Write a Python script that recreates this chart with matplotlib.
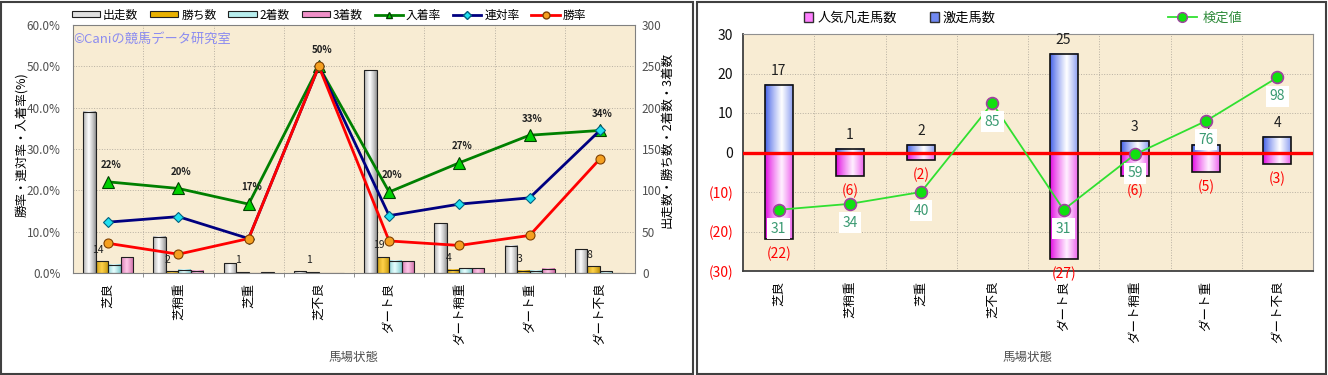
import numpy as np
import matplotlib.pyplot as plt
from matplotlib.patches import Patch, Rectangle
from matplotlib.lines import Line2D
from matplotlib.colors import to_rgb

plt.rcParams['font.family'] = ['Noto Sans CJK JP', 'DejaVu Sans']

W, H = 1328, 375

# data
conditions = ['芝良', '芝稍重', '芝重', '芝不良', 'ダート良', 'ダート稍重', 'ダート重', 'ダート不良']
runs = np.array([195, 44, 12, 2, 245, 60, 33, 29])
wins = np.array([14, 2, 1, 1, 19, 4, 3, 8])
seconds = np.array([10, 4, 0, 0, 15, 6, 3, 2])
thirds = np.array([19, 3, 1, 0, 14, 6, 5, 0])

upset = np.array([17, 1, 2, 0, 25, 3, 2, 4])      # 激走馬数
flop = np.array([22, 6, 2, 0, 27, 6, 5, 3])       # 人気凡走馬数
score = np.array([31, 34, 40, 85, 31, 59, 76, 98])  # 検定値

win_rate = wins / runs * 100
rentai = (wins + seconds) / runs * 100
place = (wins + seconds + thirds) / runs * 100


def shade(ax, bars, dark, light, peak=0.45):
    # fake cylinder look: horizontal gradient inside each bar
    t = np.linspace(0, 1, 64)
    k = np.clip(1 - np.abs(t - peak) / max(peak, 1 - peak), 0, 1) ** 0.8
    d, l = np.array(to_rgb(dark)), np.array(to_rgb(light))
    arr = ((1 - k)[:, None] * d + k[:, None] * l)[None, :, :]
    for b in bars:
        x0, y0, w, h = b.get_x(), b.get_y(), b.get_width(), b.get_height()
        if h == 0:
            continue
        ax.imshow(arr, extent=(x0, x0 + w, min(y0, y0 + h), max(y0, y0 + h)),
                  aspect='auto', zorder=1.9, interpolation='bilinear')
        b.set_facecolor('none')


def px(x0, y0, x1, y1):
    return [x0 / W, 1 - y1 / H, (x1 - x0) / W, (y1 - y0) / H]


fig = plt.figure(figsize=(W / 100, H / 100), dpi=100)
x = np.arange(len(conditions))
bg = '#F8ECD3'
grid_kw = dict(color='#B8B0A2', linestyle=':', linewidth=0.7)

# ---------------- left chart ----------------
ax = fig.add_axes(px(73, 25, 635, 273))
ax.set_facecolor(bg)
bw = 0.178
bar_specs = [
    (runs, '出走数', '#8C8C8C', '#FFFFFF'),
    (wins, '勝ち数', '#B88A00', '#FFD24A'),
    (seconds, '2着数', '#70C4C8', '#E8FFFF'),
    (thirds, '3着数', '#C8609E', '#FFC8E8'),
]
for i, (vals, lab, dk, lt) in enumerate(bar_specs):
    bars = ax.bar(x + (i - 1.5) * bw, vals, bw, edgecolor='#202020', linewidth=0.8, zorder=2)
    shade(ax, bars, dk, lt)
for xi, v in zip(x, wins):
    ax.annotate(str(v), (xi - 0.5 * bw, v), xytext=(-3, 8.5), textcoords='offset points',
                ha='center', va='center', fontsize=7.5, color='#202020', zorder=5)
ax.set_xlim(-0.5, 7.5)
ax.set_ylim(0, 300)
ax.set_yticks(np.arange(0, 301, 50))
ax.set_xticks(x)
ax.set_xticklabels(conditions, rotation=90, fontsize=9)
ax.set_xticks(np.arange(0.5, 7.5, 1), minor=True)
ax.tick_params(axis='x', which='major', length=0, pad=7)
ax.tick_params(axis='x', which='minor', length=3, color='#808080')
ax.grid(True, axis='y', **grid_kw)
ax.grid(True, axis='x', which='minor', **grid_kw)
ax.set_axisbelow(True)
for s in ax.spines.values():
    s.set_color('#808080')
ax.text(-0.5, 283, '©Caniの競馬データ研究室', color='#8C8CF0', fontsize=9.5,
        va='center', ha='left', zorder=1)

axl = ax.twinx()
# bars keep the right axis, rates go on the left
ax.yaxis.set_ticks_position('right')
ax.yaxis.set_label_position('right')
axl.yaxis.set_ticks_position('left')
axl.yaxis.set_label_position('left')
ax.tick_params(axis='y', length=0, pad=5, labelsize=8.5, labelcolor='#505050',
               labelleft=False, labelright=True)
axl.set_ylim(0, 60)
axl.set_yticks(np.arange(0, 61, 10))
axl.set_yticklabels([f'{v:.1f}%' for v in np.arange(0, 61, 10)])
axl.tick_params(axis='y', length=0, pad=9, labelsize=8.5, labelcolor='#505050',
                labelleft=True, labelright=False)
for s in axl.spines.values():
    s.set_visible(False)
axl.plot(x, place, color='#008000', lw=2, marker='^', ms=8, mfc='#00D000', mec='#004000', mew=0.8, zorder=3)
axl.plot(x, rentai, color='#000080', lw=2, marker='D', ms=5.5, mfc='#20E0F0', mec='#006080', mew=0.8, zorder=3)
axl.plot(x, win_rate, color='#FF0000', lw=2, marker='o', ms=6.5, mfc='#F5A020', mec='#804000', mew=0.8, zorder=3)
for xi, v in zip(x, place):
    axl.annotate(f'{v:.0f}%', (xi, v), xytext=(2, 12), textcoords='offset points',
                 ha='center', va='center', fontsize=7, fontweight='bold', color='#202020')

handles = [Patch(facecolor=c, edgecolor='#202020', lw=0.8, label=lab) for lab, c in
           [('出走数', '#E0E0E0'), ('勝ち数', '#E8B000'),
            ('2着数', '#B8EEEE'), ('3着数', '#F090C8')]]
handles += [
    Line2D([], [], color='#008000', lw=2, marker='^', ms=5, mfc='#00D000', mec='#004000', label='入着率'),
    Line2D([], [], color='#000080', lw=2, marker='D', ms=4, mfc='#20E0F0', mec='#006080', label='連対率'),
    Line2D([], [], color='#FF0000', lw=2, marker='o', ms=5, mfc='#F5A020', mec='#804000', label='勝率'),
]
fig.legend(handles=handles, loc='center', bbox_to_anchor=(329 / W, 1 - 15 / H), ncol=7,
           frameon=False, fontsize=8.5, handlelength=2.4, handleheight=0.45,
           handletextpad=0.25, columnspacing=1.0)
fig.text(22 / W, 1 - 145 / H, '勝率・連対率・入着率(%)', rotation=90, ha='center', va='center', fontsize=9)
fig.text(667 / W, 1 - 140 / H, '出走数・勝ち数・2着数・3着数', rotation=90, ha='center', va='center', fontsize=9)
fig.text(354 / W, 1 - 357 / H, '馬場状態', ha='center', va='center', fontsize=9, color='#505050')

# ---------------- right chart ----------------
ar = fig.add_axes(px(743, 34, 1313, 271))
ar.set_facecolor(bg)
rw = 0.39
b_up = ar.bar(x, upset, rw, edgecolor='#101010', linewidth=1.2, zorder=2)
shade(ar, b_up, '#3C5AE6', '#FFFFFF', peak=0.6)
b_fl = ar.bar(x, -flop, rw, edgecolor='#101010', linewidth=1.2, zorder=2)
shade(ar, b_fl, '#E000E0', '#FFF0FF', peak=0.6)
ar.axhline(0, color='#FF0000', lw=2.4, zorder=3)
for xi, v in zip(x, upset):
    if v:
        ar.annotate(str(v), (xi, v), xytext=(0, 10), textcoords='offset points',
                    ha='center', va='center', fontsize=10, color='#202020', zorder=4)
for xi, v in zip(x, flop):
    if v:
        ar.annotate(f'({v})', (xi, -v), xytext=(0, -10.5), textcoords='offset points',
                    ha='center', va='center', fontsize=10, color='#FF0000', zorder=4)
ar.set_xlim(-0.5, 7.5)
ar.set_ylim(-30, 30)
yt = np.arange(-30, 31, 10)
ar.set_yticks(yt)
ar.set_yticklabels([f'({-v})' if v < 0 else str(v) for v in yt])
for lab, v in zip(ar.get_yticklabels(), yt):
    lab.set_color('#FF0000' if v < 0 else '#101010')
ar.tick_params(axis='y', length=0, pad=7, labelsize=10)
ar.set_xticks(x)
ar.set_xticklabels(conditions, rotation=90, fontsize=9)
ar.set_xticks(np.arange(0.5, 7.5, 1), minor=True)
ar.tick_params(axis='x', which='both', length=0, pad=7)
ar.grid(True, axis='y', **grid_kw)
ar.grid(True, axis='x', which='minor', **grid_kw)
ar.set_axisbelow(True)
for s in ar.spines.values():
    s.set_color('#909090')
ar.spines['left'].set_color('#404040')
ar.spines['bottom'].set_color('#404040')
ar.spines['left'].set_linewidth(1.3)
ar.spines['bottom'].set_linewidth(1.3)

ar2 = ar.twinx()
ar2.set_ylim(0, 120)
ar2.set_yticks([])
for s in ar2.spines.values():
    s.set_visible(False)
ar2.plot(x, score, color='#30E030', lw=1.3, marker='o', ms=8.5, mfc='#10E010', mec='#A040A0', mew=1.2, zorder=3)
for xi, v in zip(x, score):
    ar2.annotate(str(v), (xi, v), xytext=(0, -13.5), textcoords='offset points',
                 ha='center', va='center', fontsize=10, color='#3A9A72', zorder=5,
                 bbox=dict(boxstyle='square,pad=0.25', fc='white', ec='none'))

leg1 = [Patch(facecolor='#FF80FF', edgecolor='#303030', lw=1, label='人気凡走馬数'),
        Patch(facecolor='#7088F0', edgecolor='#303030', lw=1, label='激走馬数')]
fig.legend(handles=leg1, loc='center', bbox_to_anchor=(900 / W, 1 - 18 / H), ncol=2,
           frameon=False, fontsize=9.5, handlelength=0.7, handleheight=0.7,
           handletextpad=0.3, columnspacing=2.5)
leg2 = [Line2D([], [], color='#30E030', lw=1.3, marker='o', ms=7, mfc='#10E010', mec='#A040A0', label='検定値')]
lg = fig.legend(handles=leg2, loc='center', bbox_to_anchor=(1205 / W, 1 - 18 / H),
                frameon=False, fontsize=9.5, handlelength=2.2, handletextpad=0.4)
for t in lg.get_texts():
    t.set_color('#2E8B3A')
fig.text(1028 / W, 1 - 357 / H, '馬場状態', ha='center', va='center', fontsize=9, color='#505050')

# panel frames
fig.add_artist(Rectangle((1 / W, 1 / H), 692 / W, 372 / H, transform=fig.transFigure,
                         fill=False, ec='#404040', lw=1.5))
fig.add_artist(Rectangle((697 / W, 1 / H), 629 / W, 372 / H, transform=fig.transFigure,
                         fill=False, ec='#404040', lw=1.5))

fig.savefig('out.png', dpi=100)
